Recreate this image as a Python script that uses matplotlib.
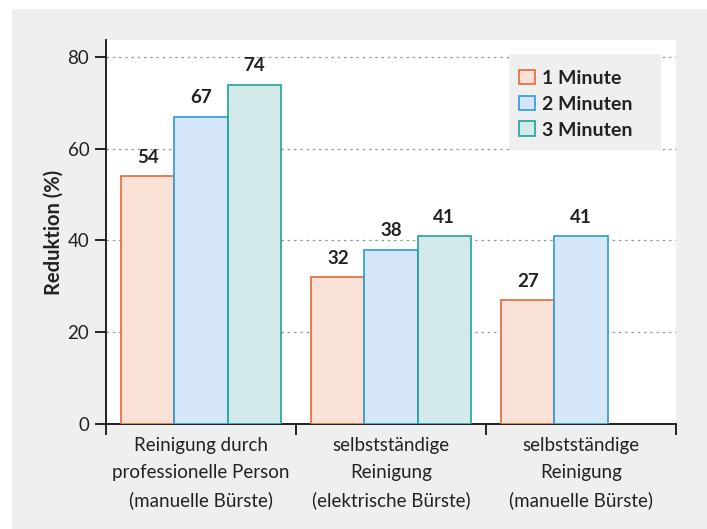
import matplotlib.pyplot as plt
from matplotlib.patches import Rectangle, Patch

categories = [
    "Reinigung durch\nprofessionelle Person\n(manuelle Bürste)",
    "selbstständige\nReinigung\n(elektrische Bürste)",
    "selbstständige\nReinigung\n(manuelle Bürste)",
]
series_names = ["1 Minute", "2 Minuten", "3 Minuten"]
one_minute = [54, 32, 27]
two_minutes = [67, 38, 41]
three_minutes = [74, 41, None]
y_ticks = [0, 20, 40, 60, 80]

faces = ["#fae1d5", "#d4e6f7", "#d4eaea"]
edges = ["#e2683a", "#2a9ad8", "#1fa398"]

plt.rcParams["font.family"] = ["Lato", "DejaVu Sans"]

W, H = 707, 529
fig = plt.figure(figsize=(W / 100, H / 100), dpi=100, facecolor="white")
# grey panel behind the chart
fig.patches.append(Rectangle((12 / W, 0), 1, 1 - 9 / H, transform=fig.transFigure,
                             facecolor="#efefef", edgecolor="none", zorder=-10))

ax = fig.add_axes([106 / W, 1 - 424 / H, (676 - 106) / W, (424 - 40) / H])
ax.set_facecolor("white")

width = 0.28
series = [one_minute, two_minutes, three_minutes]
for k, vals in enumerate(series):
    for i, v in enumerate(vals):
        if v is None:
            continue
        x = i + (k - 1) * width
        ax.bar(x, v, width=width, color=faces[k], edgecolor=edges[k], linewidth=1.2, zorder=3)
        ax.text(x, v + 4.1, str(v), ha="center", va="center", fontsize=13.5,
                fontweight="bold", color="#222222", zorder=4)

ax.set_xlim(-0.5, 2.5)
ax.set_ylim(0, 83.7)
ax.set_yticks(y_ticks)
ax.set_yticklabels([str(t) for t in y_ticks], fontsize=13.5, color="#222222")
ax.yaxis.grid(True, linestyle=(0, (2, 3)), color="#999999", linewidth=0.9, zorder=0)
ax.tick_params(axis="y", direction="out", length=8, width=1.2, pad=4)

# group boundary ticks, labels centred between them
ax.set_xticks([-0.5, 0.5, 1.5, 2.5])
ax.set_xticklabels([])
ax.set_xticks([0, 1, 2], minor=True)
ax.set_xticklabels(categories, minor=True, fontsize=13.5, color="#222222", linespacing=1.72)
ax.tick_params(axis="x", which="major", direction="out", length=8, width=1.2)
ax.tick_params(axis="x", which="minor", length=0, pad=9)

for s in ["top", "right"]:
    ax.spines[s].set_visible(False)
for s in ["left", "bottom"]:
    ax.spines[s].set_linewidth(1.3)
    ax.spines[s].set_color("#111111")

ax.set_ylabel("Reduktion (%)", fontsize=14.5, fontweight="bold", color="#222222", labelpad=3)

# legend: grey box with the entries placed inside it
ax.add_patch(Rectangle((509 / W, 1 - 150 / H), (661 - 509) / W, (150 - 54) / H,
                       transform=fig.transFigure, facecolor="#efefef", edgecolor="none",
                       zorder=4.5, clip_on=False))
handles = [Patch(facecolor=faces[k], edgecolor=edges[k], linewidth=1.2, label=series_names[k])
           for k in range(3)]
leg = ax.legend(handles=handles, loc="upper left", bbox_to_anchor=(519 / W, 1 - 69.6 / H),
                bbox_transform=fig.transFigure, frameon=False, borderaxespad=0, borderpad=0,
                prop={"weight": "bold", "size": 14}, handlelength=0.8, handleheight=0.8,
                handletextpad=0.4, labelspacing=0.45)
for t in leg.get_texts():
    t.set_color("#222222")
leg.set_zorder(5)

fig.savefig("out.png", dpi=100, facecolor=fig.get_facecolor())
